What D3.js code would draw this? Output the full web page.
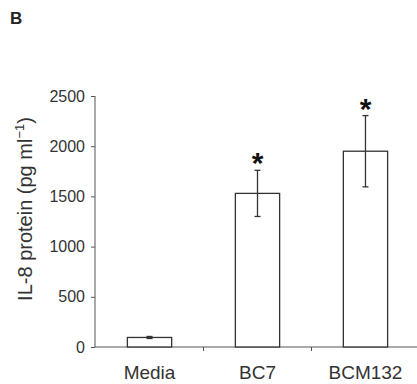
<!DOCTYPE html>
<html><head><meta charset="utf-8">
<script src="https://cdn.jsdelivr.net/npm/d3@7"></script>
<style>body{margin:0;background:#fff}svg{display:block}</style>
</head><body>
<script>
const categories = ["Media", "BC7", "BCM132"];
const values = [95, 1530, 1950];
const errors = [10, 230, 355];
const significant = [false, true, true];
const yTicks = [0, 500, 1000, 1500, 2000, 2500];

const W = 417, H = 384;
const svg = d3.select("body").append("svg").attr("width", W).attr("height", H);
const axisColor = "#555", textColor = "#333", font = "Liberation Sans, Arial, sans-serif";

const x = d3.scaleBand().domain(categories).range([95, 420]).paddingInner(0.59).paddingOuter(0.3);
const y = d3.scaleLinear().domain([0, 2500]).range([347, 96]);

svg.append("text").attr("x", 10).attr("y", 24).text("B")
  .attr("font-family", font).attr("font-weight", "bold").attr("font-size", 17).attr("fill", "#222");

// y axis
const ya = svg.append("g").attr("transform", "translate(95,0)")
  .call(d3.axisLeft(y).tickValues(yTicks).tickSize(4).tickPadding(6).tickFormat(d3.format("d")));
ya.select(".domain").attr("stroke", axisColor).attr("d", "M0,96V347");
ya.selectAll("line").attr("stroke", axisColor);
ya.selectAll("text").attr("font-family", font).attr("font-size", 16).attr("fill", textColor);

// x axis baseline
const bandStep = x.step();
svg.append("line").attr("x1", 95).attr("x2", 420).attr("y1", 347).attr("y2", 347)
  .attr("stroke", axisColor).attr("stroke-width", 1);
// separators between categories
const seps = categories.slice(0, -1).map(c => x(c) + x.bandwidth() + (bandStep - x.bandwidth()) / 2);
svg.selectAll(".sep").data(seps).join("line")
  .attr("x1", d => d).attr("x2", d => d).attr("y1", 347).attr("y2", 351)
  .attr("stroke", axisColor);
svg.selectAll(".xl").data(categories).join("text")
  .attr("x", d => x(d) + x.bandwidth() / 2).attr("y", 379).attr("text-anchor", "middle")
  .attr("font-family", font).attr("font-size", 19).attr("fill", textColor).text(d => d);

// bars
svg.selectAll(".bar").data(categories).join("rect")
  .attr("x", d => x(d)).attr("width", x.bandwidth())
  .attr("y", (d, i) => y(values[i])).attr("height", (d, i) => y(0) - y(values[i]))
  .attr("fill", "#fff").attr("stroke", "#333").attr("stroke-width", 1.3);

// error bars
const eg = svg.selectAll(".err").data(categories).join("g");
eg.append("line")
  .attr("x1", d => x(d) + x.bandwidth() / 2).attr("x2", d => x(d) + x.bandwidth() / 2)
  .attr("y1", (d, i) => y(values[i] + errors[i])).attr("y2", (d, i) => y(values[i] - errors[i]))
  .attr("stroke", "#333").attr("stroke-width", 1.3);
[1, -1].forEach(s => {
  eg.append("line")
    .attr("x1", d => x(d) + x.bandwidth() / 2 - 3).attr("x2", d => x(d) + x.bandwidth() / 2 + 3)
    .attr("y1", (d, i) => y(values[i] + s * errors[i])).attr("y2", (d, i) => y(values[i] + s * errors[i]))
    .attr("stroke", "#333").attr("stroke-width", 1.3);
});

// asterisks
svg.selectAll(".star").data(categories.filter((c, i) => significant[i])).join("text")
  .attr("x", d => x(d) + x.bandwidth() / 2)
  .attr("y", d => { const i = categories.indexOf(d); return y(values[i] + errors[i]) + 3; })
  .attr("text-anchor", "middle").attr("font-family", font).attr("font-weight", "bold")
  .attr("font-size", 30).attr("fill", "#111")
  .text("*");

// y label
const lab = svg.append("text").attr("transform", "translate(32,209) rotate(-90)")
  .attr("text-anchor", "middle").attr("font-family", font).attr("font-size", 20).attr("fill", textColor);
lab.append("tspan").text("IL-8 protein (pg ml");
lab.append("tspan").text("\u22121").attr("dy", -8).attr("font-size", 13);
lab.append("tspan").text(")").attr("dy", 8);
</script>
</body></html>
